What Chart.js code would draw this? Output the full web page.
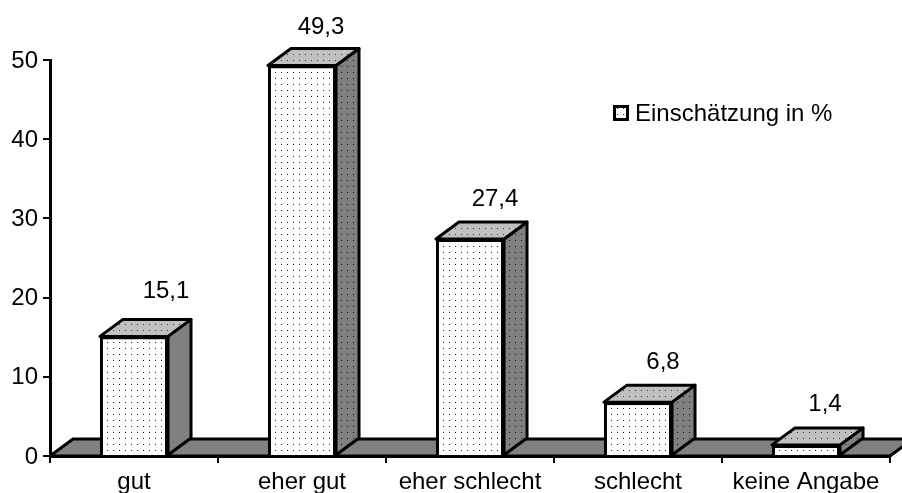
<!DOCTYPE html>
<html>
<head>
<meta charset="utf-8">
<script src="https://cdn.jsdelivr.net/npm/chart.js"></script>
<style>
  html, body { margin: 0; padding: 0; background: #fff; }
  #wrap { width: 902px; height: 493px; }
</style>
</head>
<body>
<div id="wrap"><canvas id="chart" width="902" height="493"></canvas></div>
<script>
const categories = ['gut', 'eher gut', 'eher schlecht', 'schlecht', 'keine Angabe'];
const values = [15.1, 49.3, 27.4, 6.8, 1.4];
const seriesName = 'Einschätzung in %';
const yTicks = [0, 10, 20, 30, 40, 50];

const FONT = '"Liberation Sans", Arial, sans-serif';
const FONT_SIZE = 24;
// 3D depth of bars and floor
const DX = 23, DY = 17;
// value labels sit a bit off the bar, shift from bar centre / bar top
const labelShift = [[32, -45], [19, -38], [25, -40], [25, -40], [19, -41]];

function dots(bg, dot) {
  const c = document.createElement('canvas');
  c.width = 6; c.height = 6;
  const g = c.getContext('2d');
  if (bg) { g.fillStyle = bg; g.fillRect(0, 0, 6, 6); }
  g.fillStyle = dot;
  g.fillRect(5, 0, 1, 1);
  return document.createElement('canvas').getContext('2d').createPattern(c, 'repeat');
}

function poly(ctx, pts, fill) {
  ctx.beginPath();
  pts.forEach((p, i) => i ? ctx.lineTo(p[0], p[1]) : ctx.moveTo(p[0], p[1]));
  ctx.closePath();
  ctx.fillStyle = fill;
  ctx.fill();
  ctx.stroke();
}

const bars3d = {
  id: 'bars3d',
  beforeDatasetsDraw(chart) {
    const ctx = chart.ctx, a = chart.chartArea;
    ctx.save();
    ctx.strokeStyle = '#000';
    ctx.lineWidth = 3;
    ctx.lineJoin = 'round';
    // floor
    poly(ctx, [[a.left, a.bottom], [a.left + DX, a.bottom - DY], [a.right + DX, a.bottom - DY], [a.right, a.bottom]], '#808080');
    const sidePat = dots('#808080', '#111');
    const topPat = dots('#c0c0c0', '#333');
    chart.getDatasetMeta(0).data.forEach((b, i) => {
      const l = b.x - b.width / 2, r = b.x + b.width / 2, t = b.y, bot = b.base;
      // first bar has a plain side in the reference
      poly(ctx, [[r, t], [r + DX, t - DY], [r + DX, bot - DY], [r, bot]], i === 0 ? '#808080' : sidePat);
      poly(ctx, [[l, t], [l + DX, t - DY], [r + DX, t - DY], [r, t]], topPat);
    });
    ctx.restore();
  },
  afterDatasetsDraw(chart) {
    const ctx = chart.ctx;
    ctx.save();
    ctx.font = FONT_SIZE + 'px ' + FONT;
    ctx.fillStyle = '#000';
    ctx.textAlign = 'center';
    ctx.textBaseline = 'middle';
    chart.getDatasetMeta(0).data.forEach((b, i) => {
      ctx.fillText(values[i].toFixed(1).replace('.', ','), b.x + labelShift[i][0], b.y + labelShift[i][1]);
    });
    // legend
    ctx.fillStyle = '#fff';
    ctx.strokeStyle = '#000';
    ctx.lineWidth = 3;
    ctx.fillRect(614.5, 106.5, 13, 13);
    ctx.fillStyle = dots(null, '#333');
    ctx.fillRect(614.5, 106.5, 13, 13);
    ctx.strokeRect(614.5, 106.5, 13, 13);
    ctx.fillStyle = '#000';
    ctx.textAlign = 'left';
    ctx.fillText(seriesName, 635, 114);
    ctx.restore();
  }
};

new Chart(document.getElementById('chart').getContext('2d'), {
  type: 'bar',
  data: {
    labels: categories,
    datasets: [{
      label: seriesName,
      data: values,
      backgroundColor: dots('#fff', '#222'),
      borderColor: '#000',
      borderWidth: 3,
      barPercentage: 0.405,
      categoryPercentage: 1
    }]
  },
  options: {
    responsive: false,
    animation: false,
    layout: { padding: { top: 60, right: 12, left: 0, bottom: 0 } },
    plugins: { legend: { display: false }, tooltip: { enabled: false } },
    scales: {
      x: {
        afterFit: s => { s.height = 37; },
        offset: true,
        border: { color: '#000', width: 3 },
        grid: { display: true, drawOnChartArea: false, color: '#000', lineWidth: 2, tickLength: 7, offset: true },
        ticks: { color: '#000', font: { family: FONT, size: FONT_SIZE }, padding: 5, autoSkip: false, maxRotation: 0 }
      },
      y: {
        min: yTicks[0],
        max: yTicks[yTicks.length - 1],
        afterFit: s => { s.width = 50; },
        afterBuildTicks: s => { s.ticks = yTicks.map(v => ({ value: v })); },
        border: { color: '#000', width: 3 },
        grid: { display: true, drawOnChartArea: false, color: '#000', lineWidth: 2, tickLength: 7 },
        ticks: { color: '#000', font: { family: FONT, size: FONT_SIZE }, padding: 5, labelOffset: 1 }
      }
    }
  },
  plugins: [bars3d]
});
</script>
</body>
</html>
